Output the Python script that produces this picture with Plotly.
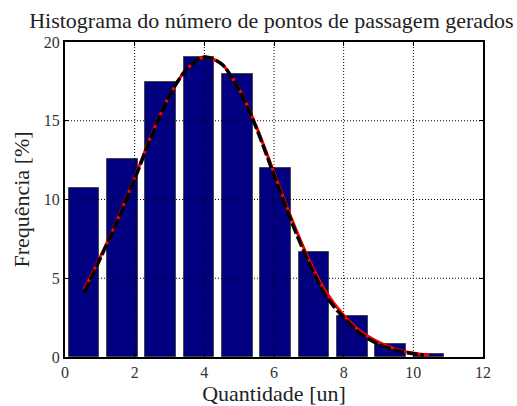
import plotly.graph_objects as go

# Histogram data (bin centres and frequency in %)
bin_centers = [0.55, 1.65, 2.75, 3.85, 4.95, 6.05, 7.15, 8.25, 9.35, 10.45]
freq = [10.75, 12.55, 17.48, 19.05, 18.0, 11.98, 6.65, 2.58, 0.85, 0.2]
bar_width = 0.88

# Fitted curve (red)
red_x = [0.55, 1.0, 1.5, 2.0, 2.5, 3.0, 3.5, 4.0, 4.5, 5.0, 5.5, 6.0, 6.5, 7.0,
         7.5, 8.0, 8.5, 9.0, 9.5, 10.0, 10.45]
red_y = [4.3, 6.3, 8.7, 11.4, 14.2, 16.6, 18.3, 19.05, 18.6, 17.0, 14.6, 11.7, 8.8, 6.2,
         4.1, 2.65, 1.6, 0.95, 0.5, 0.25, 0.12]

# Second fitted curve (black dashed)
blk_x = [0.55, 1.0, 1.5, 2.0, 2.5, 3.0, 3.5, 4.0, 4.5, 5.0, 5.5, 6.0, 6.5, 7.0,
         7.5, 8.0, 8.5, 9.0, 9.5, 10.0, 10.3]
blk_y = [4.1, 6.2, 8.6, 11.3, 14.1, 16.6, 18.3, 19.05, 18.6, 16.95, 14.5, 11.55, 8.6, 6.0,
         3.85, 2.5, 1.45, 0.82, 0.42, 0.2, 0.12]

x_ticks = [0, 2, 4, 6, 8, 10, 12]
y_ticks = [0, 5, 10, 15, 20]
x_grid = [2, 4, 6, 8, 10]
y_grid = [5, 10, 15]

FONT = "Liberation Serif"

fig = go.Figure()
fig.add_trace(go.Bar(
    x=bin_centers, y=freq, width=bar_width,
    marker=dict(color="#000080", line=dict(color="rgb(70,70,70)", width=1)),
    showlegend=False,
))
fig.add_trace(go.Scatter(
    x=red_x, y=red_y, mode="lines",
    line=dict(color="#ff0000", width=3, shape="spline", smoothing=0.8),
    showlegend=False,
))
fig.add_trace(go.Scatter(
    x=blk_x, y=blk_y, mode="lines",
    line=dict(color="black", width=3.5, dash="11px,3px", shape="spline", smoothing=0.8),
    showlegend=False,
))

shapes = []
for gx in x_grid:
    shapes.append(dict(type="line", xref="x", yref="y domain", x0=gx, x1=gx, y0=0, y1=1,
                       line=dict(color="black", width=1, dash="1px,2px"), layer="above"))
for gy in y_grid:
    shapes.append(dict(type="line", xref="x domain", yref="y", x0=0, x1=1, y0=gy, y1=gy,
                       line=dict(color="black", width=1, dash="1px,2px"), layer="above"))

fig.update_layout(
    width=517, height=406,
    margin=dict(l=65, r=34, t=42, b=49, autoexpand=False),
    paper_bgcolor="white", plot_bgcolor="white",
    title=dict(text="Histograma do número de pontos de passagem gerados",
               x=0.525, xanchor="center", y=0.95, yanchor="middle",
               font=dict(family=FONT, size=22, color="#222")),
    font=dict(family=FONT, color="#222"),
    shapes=shapes,
    bargap=0,
)
fig.update_xaxes(
    range=[0, 12], tickvals=x_ticks, ticktext=[str(t) for t in x_ticks],
    ticks="inside", ticklen=4, tickcolor="black", showgrid=False, zeroline=False,
    showline=True, linecolor="black", linewidth=2, mirror="ticks", automargin=False,
    tickfont=dict(family=FONT, size=16, color="#333"),
    title=dict(text="Quantidade [un]", font=dict(family=FONT, size=22, color="#222"), standoff=6),
)
fig.update_yaxes(
    range=[0, 20], tickvals=y_ticks, ticktext=[str(t) for t in y_ticks],
    ticks="inside", ticklen=4, tickcolor="black", showgrid=False, zeroline=False,
    showline=True, linecolor="black", linewidth=2, mirror="ticks", automargin=False,
    tickfont=dict(family=FONT, size=16, color="#333"),
    title=dict(text="Frequência [%]", font=dict(family=FONT, size=22, color="#222"), standoff=8),
)

fig.write_html("out.html")
